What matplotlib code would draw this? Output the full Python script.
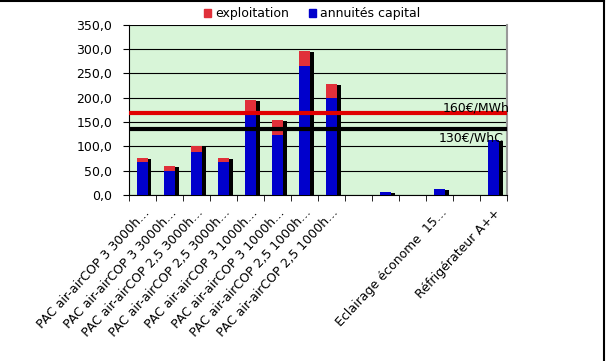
import numpy as np
import matplotlib.pyplot as plt
from matplotlib.patches import Patch

# Donnees
labels = ["PAC air-airCOP 3 3000h…", "PAC air-airCOP 3 3000h…",
          "PAC air-airCOP 2,5 3000h…", "PAC air-airCOP 2,5 3000h…",
          "PAC air-airCOP 3 1000h…", "PAC air-airCOP 3 1000h…",
          "PAC air-airCOP 2,5 1000h…", "PAC air-airCOP 2,5 1000h…",
          "", "", "", "Eclairage économe  15…", "", "Réfrigérateur A++"]
annuites = [67, 48.5, 87.5, 67, 165, 124, 266, 200, 0, 5.5, 0, 11.5, 0, 114]
exploitation = [10, 10.5, 12.5, 10, 31, 31, 31, 29, 0, 0, 0, 0, 0, 0]
seuil_160 = 169
seuil_130 = 136
yticks = [0, 50, 100, 150, 200, 250, 300, 350]

blue = "#0000CC"
red = "#E0303A"

fig = plt.figure(figsize=(6.06, 3.61), dpi=100)
ax = fig.add_axes([0.213, 0.46, 0.624, 0.471])
ax.set_facecolor("#D8F5D8")

x = np.arange(len(labels))
annuites = np.array(annuites)
exploitation = np.array(exploitation)
total = annuites + exploitation
w = 0.42

# ombre noire derriere les barres
ombre = np.where(total > 0, np.maximum(total - 2, 0), 0)
ax.bar(x + 0.12, ombre, w, color="black", zorder=2)
ax.bar(x, annuites, w, color=blue, zorder=3)
ax.bar(x, exploitation, w, bottom=annuites, color=red, zorder=3)

ax.axhline(seuil_160, color="#E00000", lw=3, zorder=4)
ax.axhline(seuil_130, color="black", lw=3, zorder=4)
ax.text(11.1, seuil_160 - 4, "160€/MWh", fontsize=9, ha="left", va="bottom", zorder=5, clip_on=False)
ax.text(10.95, seuil_130 - 5, "130€/WhC", fontsize=9, ha="left", va="top", zorder=5, clip_on=False)

ax.set_xlim(-0.5, len(labels) - 0.5)
ax.set_ylim(0, 350)
ax.set_yticks(yticks)
ax.set_yticklabels([f"{v:.1f}".replace(".", ",") for v in yticks], fontsize=9)
ax.yaxis.grid(True, color="black", lw=0.8, zorder=1)
ax.set_axisbelow(True)

ax.set_xticks(x)
ax.set_xticklabels(labels, rotation=47, ha="right", rotation_mode="anchor", fontsize=9)
ax.tick_params(axis="x", length=0, pad=8)
ax.set_xticks(np.arange(-0.5, len(labels)), minor=True)
ax.tick_params(axis="x", which="minor", length=4, direction="out")
ax.tick_params(axis="y", length=4, direction="out", pad=8)

ax.spines["top"].set_visible(False)
ax.spines["right"].set_color("#999999")
ax.spines["right"].set_linewidth(1.5)

fig.legend(handles=[Patch(color=red, label="exploitation"), Patch(color=blue, label="annuités capital")],
           loc="center", bbox_to_anchor=(0.515, 0.962), ncol=2, frameon=False, fontsize=9,
           handlelength=0.6, handleheight=0.6, handletextpad=0.3, columnspacing=1.6)

# cadre (haut et droite)
fig.add_artist(plt.Line2D([0, 0.997], [0.996, 0.996], color="black", lw=1.5))
fig.add_artist(plt.Line2D([0.997, 0.997], [0, 0.996], color="black", lw=1.5))

fig.savefig("out.png", dpi=100)
